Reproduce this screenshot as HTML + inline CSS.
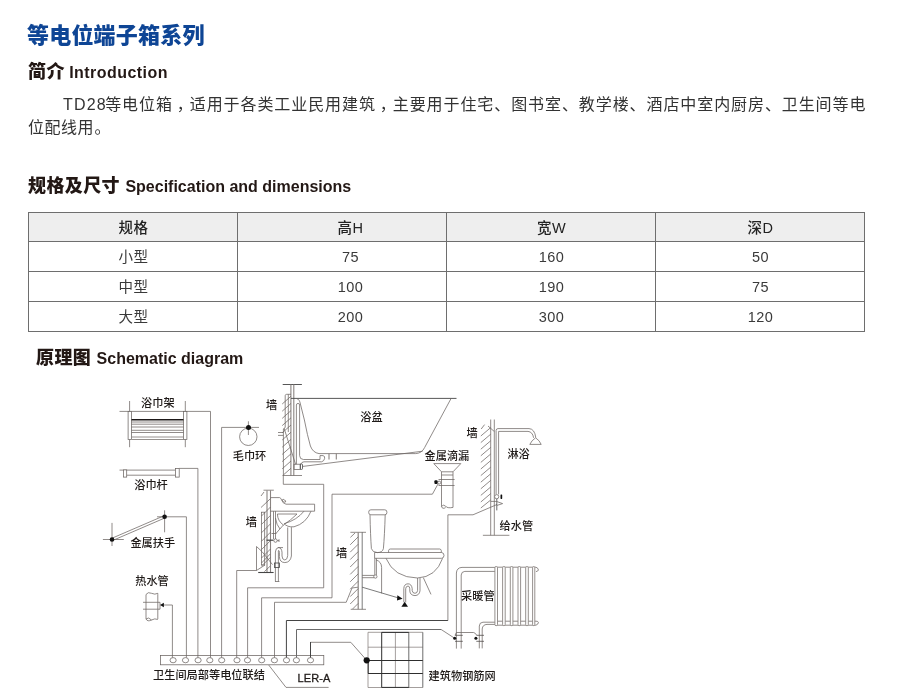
<!DOCTYPE html>
<html lang="zh-CN">
<head>
<meta charset="utf-8">
<title>等电位端子箱系列</title>
<style>
html,body{margin:0;padding:0;background:#fff;}
body{width:900px;height:700px;position:relative;overflow:hidden;font-family:"Liberation Sans","Noto Sans CJK SC",sans-serif;color:#333;}
.abs{position:absolute;white-space:nowrap;margin:0;}
h1.title{left:27px;top:20px;font-size:22px;line-height:32px;font-weight:900;color:#0e4595;letter-spacing:0.2px;}
h2.sec{font-size:18px;line-height:26px;font-weight:900;color:#231815;letter-spacing:0.4px;}
h2.sec span{font-size:16px;font-weight:bold;letter-spacing:0;}
p.intro{position:absolute;left:28px;width:838px;margin:0;font-size:16px;line-height:23px;letter-spacing:0.5px;color:#333;font-weight:400;white-space:nowrap;}
p.l1{top:92.5px;text-indent:35px;text-align:justify;text-align-last:justify;}
p.l2{top:115.5px;}
p.intro b{font-weight:normal;letter-spacing:1.2px;margin-right:-2.2px;}
p.intro i{font-style:normal;position:relative;left:4px;}
table.spec{position:absolute;left:28px;top:212px;width:837px;border-collapse:collapse;table-layout:fixed;font-size:14.5px;letter-spacing:0.5px;color:#3a3a3a;}
table.spec td,table.spec th{border:1px solid #6e6e6e;height:27px;padding:2px 0 0 1px;text-align:center;font-weight:normal;line-height:27px;}
table.spec th{height:26px;line-height:26px;}
table.spec th{background:#eee;color:#222;font-weight:500;}
table.spec .c2{padding-left:17px;}
#page{position:absolute;left:0;top:0;width:900px;height:700px;will-change:transform;}
svg#dia{position:absolute;left:0;top:0;}
svg#dia text{font-family:"Liberation Sans","Noto Sans CJK SC",sans-serif;font-size:11.2px;fill:#1f1a18;font-weight:500;}
.t{fill:none;stroke:#6b6461;stroke-width:0.75;}
.g{fill:none;stroke:#8a8481;stroke-width:0.9;}
.k{fill:none;stroke:#444;stroke-width:1;}
.f{fill:#111;stroke:none;}
.w{fill:#fff;stroke:#6b6461;stroke-width:0.75;}
</style>
</head>
<body>
<div id="page">
<h1 class="abs title">等电位端子箱系列</h1>
<h2 class="abs sec" style="left:28px;top:59px;">简介 <span style="letter-spacing:0.45px;margin-left:-1px">Introduction</span></h2>
<p class="intro l1"><b>TD28</b>等电位箱<i>，</i>适用于各类工业民用建筑<i>，</i>主要用于住宅、图书室、教学楼、酒店中室内厨房、卫生间等电</p>
<p class="intro l2">位配线用<i style="left:0.5px">。</i></p>
<h2 class="abs sec" style="left:28px;top:173px;">规格及尺寸 <span>Specification and dimensions</span></h2>
<table class="spec">
<tr><th>规格</th><th class="c2">高H</th><th>宽W</th><th>深D</th></tr>
<tr><td>小型</td><td class="c2">75</td><td>160</td><td>50</td></tr>
<tr><td>中型</td><td class="c2">100</td><td>190</td><td>75</td></tr>
<tr><td>大型</td><td class="c2">200</td><td>300</td><td>120</td></tr>
</table>
<h2 class="abs sec" style="left:36px;top:345px;">原理图 <span>Schematic diagram</span></h2>
<svg id="dia" width="900" height="700" viewBox="0 0 900 700">
<!-- terminal strip -->
<g id="strip">
<rect class="t" x="160.4" y="655.6" width="163.4" height="9.2"/>
<g class="t">
<ellipse cx="173.1" cy="660.2" rx="3.1" ry="2.6"/><ellipse cx="185.5" cy="660.2" rx="3.1" ry="2.6"/>
<ellipse cx="198.1" cy="660.2" rx="3.1" ry="2.6"/><ellipse cx="209.8" cy="660.2" rx="3.1" ry="2.6"/>
<ellipse cx="221.7" cy="660.2" rx="3.1" ry="2.6"/><ellipse cx="237" cy="660.2" rx="3.1" ry="2.6"/>
<ellipse cx="247.5" cy="660.2" rx="3.1" ry="2.6"/><ellipse cx="261.7" cy="660.2" rx="3.1" ry="2.6"/>
<ellipse cx="274.4" cy="660.2" rx="3.1" ry="2.6"/><ellipse cx="286.5" cy="660.2" rx="3.1" ry="2.6"/>
<ellipse cx="296.4" cy="660.2" rx="3.1" ry="2.6"/><ellipse cx="310.5" cy="660.2" rx="3.1" ry="2.6"/>
</g>
<path class="t" d="M268.7 665 L286 687.4 H328.6"/>
<text x="153" y="679">卫生间局部等电位联结</text>
<text x="297.6" y="682" style="font-size:11px;font-weight:normal;letter-spacing:0.1px;stroke:#1f1a18;stroke-width:0.3">LER-A</text>
</g>
<!-- wires -->
<g id="wires">
<path class="t" d="M163.9 605 H172.4 V657.6"/>
<path class="t" d="M157 516.8 H186.4 V657.6"/>
<path class="t" d="M179.2 468.4 H197.9 V657.6"/>
<path class="t" d="M119.5 411.4 H210.5 V657.6"/>
<path class="t" d="M259 427.4 H221.6 V657.6"/>
<path class="t" d="M256.5 570.5 H236.7 V657.6"/>
<path class="t" d="M283.3 475.5 V484.3 H323.7 V587.8 H247.6 V657.6"/>
<path class="t" d="M438 484 L432.4 494.2 H332 V597.8 H261.6 V657.6"/>
<path class="t" d="M358 587.2 L352 588 L346.2 602.3 H274.5 V657.6"/>
<path class="t" d="M497 504.5 L473 514.8 H447.9 V620.5"/>
<path class="k" d="M447.9 620.5 H286.4 V657.6"/>
<path class="t" d="M454.7 638.3 L441 629.4"/>
<path class="k" d="M441 629.5 H296.5 V657.6" style="stroke:#6a6a6a"/>
<path class="t" d="M366.6 660.2 L350.8 642.3 H310.5"/>
<path class="k" d="M310.5 642 V657.6"/>
</g>
<!-- towel rack -->
<g id="rack">
<path class="t" d="M129.6 401 V447.2 M185.3 401 V447.2"/>
<rect class="w" x="128.1" y="411.4" width="3.4" height="28.2" style="stroke:#6a6461"/>
<rect class="w" x="183.5" y="411.4" width="3.4" height="28.2" style="stroke:#6a6461"/>
<path d="M131.5 419.8 H183.5" style="stroke:#1c1817;stroke-width:1.6;fill:none"/>
<path class="t" d="M131.5 422 H183.5 M131.5 424.2 H183.5 M131.5 427 H183.5 M131.5 430.3 H183.5 M131.5 432.5 H183.5"/>
<path class="g" d="M131.5 437 H183.5 M131.5 439.5 H183.5"/>
<text x="141" y="406.8">浴巾架</text>
</g>
<!-- towel bar -->
<g id="bar">
<path class="t" d="M119.5 470.1 H175.4 M126.7 475.2 H175.4"/>
<rect class="w" x="123.4" y="469.9" width="3.3" height="7.2"/>
<rect class="w" x="175.4" y="468.4" width="3.8" height="8.7"/>
<text x="134.2" y="488.8">浴巾杆</text>
</g>
<!-- handrail -->
<g id="rail">
<path class="t" d="M102.9 539.5 H123.8 M112 522.9 V546 M164.6 510.3 V532.3"/>
<path class="t" d="M111.6 538.4 L164.2 515.7 M112.4 540.6 L165 517.9"/>
<circle class="f" cx="112" cy="539.5" r="2.3"/><circle class="f" cx="164.6" cy="516.8" r="2.3"/>
<text x="130.4" y="547.4">金属扶手</text>
</g>
<!-- hot water pipe -->
<g id="hot">
<path class="t" d="M146 594.5 V619 M157.8 594.5 V609.2 H160 V602.3 H157.8 M157.8 609.2 V619"/>
<path class="t" d="M146 594.5 Q148 591.5 151.5 593.3 Q155 595 157.8 593.3 V594.5"/>
<path class="t" d="M146 619 Q147.5 622 151.5 620 Q155 618 157.8 619.5 M146 619 Q148.5 616.5 151.5 620"/>
<path class="t" d="M143 602.3 H157.8 M143 609.2 H157.8"/>
<path class="f" d="M160 605 L163.9 602.7 V607.3 Z"/>
<text x="135.2" y="585.2">热水管</text>
</g>
<!-- towel ring -->
<g id="ring">
<circle class="t" cx="248.3" cy="436.8" r="8.7"/>
<path class="t" d="M248.4 421.3 V435"/>
<circle class="f" cx="248.5" cy="427.4" r="2.5"/>
<text x="232.7" y="460">毛巾环</text>
</g>
<!-- bathtub -->
<g id="tub">
<path class="k" d="M282.7 384.5 H301.9" style="stroke-width:0.9"/>
<path class="g" d="M290.9 384.5 V475.5 M293.8 384.5 V475.5" style="stroke-width:1.1"/>
<path class="t" d="M285.2 427.6 V395.6 Q285.3 394.4 286.6 394.3 H291 M288.3 394.3 V432 M285.2 427.4 L283.4 429 V475.5"/>
<path class="t" d="M282.2 404 L291 396.2 M282.2 411.2 L291 403.4 M282.2 418.4 L291 410.6 M282.2 425.6 L291 417.8 M282.2 432.8 L291 425 M282.2 440 L291 432.2 M282.2 447.2 L291 439.4 M282.2 454.4 L291 446.6 M282.2 461.6 L291 453.8 M282.2 468.8 L291 461 M283.3 475 L291 468.2"/>
<path class="t" d="M278 432.5 H283.4 M278 435.4 H283.4 M284 428 L295.6 464.4"/>
<path class="t" d="M282.5 475.5 H302"/>
<path class="k" d="M291 398.4 H456.5" style="stroke-width:0.9"/>
<path class="t" d="M451.1 398.4 L424.6 447.6 Q421.8 453.4 415.5 453.6 H319 Q312.8 452.6 310.4 446 Q307.5 436 304.4 420 L300.4 404 Q299.6 399.2 296.5 398.5"/>
<path class="t" d="M422.6 451.2 L303 466.4"/>
<path class="g" d="M329 453.6 V459.5 M336.3 453.6 V459.5" style="stroke-width:1.1"/>
<path class="t" d="M296.4 464.2 V405 Q296.5 403.4 298 403.4 Q299.6 403.4 299.6 405 V455.6 Q299.8 459.4 303.4 459.5 H320 V455.6 H323 Q325.2 456 324.6 458.6 Q324 461.2 321.6 461.8 H304 Q301.6 462 300.6 464.2"/>
<rect class="t" x="294" y="464.2" width="6.4" height="5.2"/>
<rect class="k" x="300.2" y="464" width="2.3" height="5.4" rx="0.8" style="stroke-width:0.8"/>
<text x="266" y="409">墙</text>
<text x="360.2" y="420.6">浴盆</text>
</g>
<!-- floor drain -->
<g id="drain">
<path class="t" d="M433.8 463.6 H460.8 L453 471.8 H441.5 Z"/>
<path class="t" d="M441.5 471.8 V506.6 M453 471.8 V507.4 M441.5 475 H453 M438.5 479.5 H454.6 M438.5 485.5 H454.6"/>
<path class="t" d="M441.5 506.6 Q443 504 445.5 506 Q447 508.6 453 507.4 M441.5 506.6 Q442.5 509.4 445.6 507.6"/>
<circle class="t" cx="439.2" cy="482.6" r="1.5"/>
<rect class="f" x="434.4" y="480.3" width="3.2" height="3.8" rx="1"/>
<text x="424.5" y="460">金属滴漏</text>
</g>
<!-- shower -->
<g id="shower">
<path class="t" d="M490.7 419.5 V535.3 M494.3 419.5 V535.3 M482.9 535.3 H509.4"/>
<path class="t" d="M481.2 429 L484.6 424.6 M480.8 436 L490.7 427.6 M480.8 442.6 L490.7 434.2 M480.8 449.2 L490.7 440.8 M480.8 455.8 L490.7 447.4 M480.8 462.4 L490.7 454 M480.8 469 L490.7 460.6 M480.8 475.6 L490.7 467.2 M480.8 482.2 L490.7 473.8 M480.8 488.8 L490.7 480.4 M480.8 495.4 L490.7 487 M480.8 502 L490.7 493.6 M480.8 508 L490.7 500"/>
<path class="t" d="M496.1 494.4 V430.4 Q496.2 428.6 498 428.6 H529 Q534.6 428.8 535.8 437.6 M498.6 494.4 V431.4 H528 Q532.6 431.8 533.6 437.8"/>
<path class="t" d="M529.8 444.4 H541.2 Q539.6 440.4 535.6 437.8 Q531.6 440.4 529.8 444.4 Z"/>
<path class="t" d="M488 426 L494.3 431.5"/>
<circle class="w" cx="496.7" cy="496.7" r="2.1"/>
<rect class="f" x="500.5" y="494.5" width="1.7" height="4.4" rx="0.6"/>
<path class="k" d="M496.8 498.8 V510.4" style="stroke-width:0.8"/>
<path class="t" d="M490.7 501.4 H497 M497 501.6 L502.6 503.6 L497 505.4"/>
<text x="466.5" y="437">墙</text>
<text x="507.4" y="458">淋浴</text>
<text x="499.6" y="529.8">给水管</text>
</g>
<!-- sink -->
<g id="sink">
<path class="t" d="M263.5 490.2 H273.8"/>
<path class="g" d="M267 490.2 V572.5 M270.5 490.2 V572.5" style="stroke-width:1.1"/>
<rect class="t" x="261.5" y="512.2" width="3.2" height="52.8"/>
<path class="t" d="M261 496 L264 492 M261 507.5 L270.5 498.6 M261.5 516 L270.5 507 M261.5 524.4 L270.5 515.4 M261.5 532.8 L270.5 523.8 M261.5 541.2 L270.5 532.2 M261.5 549.6 L270.5 540.6 M261.5 558 L270.5 549 M261.5 566 L270.5 557.4 M264.4 571.6 L270.5 565.8"/>
<path class="k" d="M258.2 572.5 H273.6" style="stroke-width:1.1"/>
<path class="t" d="M256.5 570.5 V546.5 L262 551.6 L272.5 564.6 M270.2 554 L261.5 563 M256.5 570.5 L265 565"/>
<path class="t" d="M270.5 497.6 H279.6 Q281 498 281.6 500 Q282.6 503.4 286 504.2 H314.6 V511.2 H270.5"/>
<ellipse class="t" cx="284" cy="500.8" rx="1.9" ry="1" transform="rotate(35 284 500.8)"/>
<path class="t" d="M311 511.2 Q306 523.6 294 526.8 Q287 527.4 284 523.4 M304 511.2 Q297 520 284.4 523.6"/>
<path class="t" d="M277.4 514 H297 Q291 520 283.4 525 Q277.6 521 277.4 514 Z"/>
<path class="t" d="M273.5 511.2 V539 M275.5 511.2 V539 M271.5 533.5 H276.5 M275.5 518 Q276.4 525 280 529 M283.4 525 L276 533.4"/>
<path class="k" d="M266.5 540.2 H273.6" style="stroke-width:1.2"/>
<circle class="w" cx="275.5" cy="540.6" r="1.7"/>
<path class="t" d="M277.2 540.6 H279 M279 539.2 V542"/>
<!-- trap -->
<path class="t" d="M287.7 527.4 V555.6 Q287.4 559.8 284.8 560 Q282.2 559.8 282 556 V552.2 Q281.6 547.8 278.6 547.6 Q275.6 547.8 275.4 552 V581.5 M291.4 527.2 V556 Q290.4 562.4 284.8 562.6 Q279.6 562.4 279.4 556.6 V552.8 Q279.4 550.4 278.6 550.4 Q278.2 550.6 278.4 552.8 V581.5 M275 581.5 H279.4 M277.8 547.6 H283"/>
<rect class="k" x="274.5" y="563" width="5" height="4.6" style="stroke-width:0.8"/>
<text x="245.8" y="526">墙</text>
</g>
<!-- toilet -->
<g id="toilet">
<path class="t" d="M350.4 532.3 H366 M350.7 609.3 H366"/>
<path class="g" d="M358.2 532.3 V609.3" style="stroke-width:1.2"/>
<path class="k" d="M362.2 532.3 V609.3" style="stroke-width:0.7"/>
<path class="t" d="M350.4 537.4 L355 533 M350.2 544.8 L358.2 536.8 M350.2 552.2 L358.2 544.2 M350.2 559.6 L358.2 551.6 M350.2 567 L358.2 559 M350.2 574.4 L358.2 566.4 M350.2 581.8 L358.2 573.8 M350.2 589.2 L358.2 581.2 M350.2 596.6 L358.2 588.6 M350.2 604 L358.2 596 M352.6 609 L358.2 603.4"/>
<rect class="t" x="368.7" y="509.8" width="18.2" height="5" rx="2.2"/>
<path class="t" d="M370 514.8 Q370.4 535 371.4 548.6 Q372.4 552.4 377.4 552.6 Q382.6 552.4 383.4 548.6 Q384.6 535 385.2 514.8"/>
<path class="t" d="M374.6 552.5 H441.6 Q444 552.8 444 555.4 Q444 558 441.6 558.3 H374.6 Z"/>
<path class="t" d="M388.6 552.5 V550.4 Q388.8 549.1 390.4 549 H439.6 Q441.2 549.2 441.3 550.6 V552.5"/>
<path class="t" d="M386 558.3 Q394 577.6 417.4 578 Q436 577.2 442.6 558.3"/>
<path class="t" d="M376.2 560 Q381.4 561.6 381.6 567.4 V593.3"/>
<path class="t" d="M374.8 558.3 V575 M376.4 558.3 V575 M362.2 575.4 H374 M362.2 577.7 H374"/>
<circle class="w" cx="375.4" cy="576.6" r="1.6"/>
<path class="t" d="M417.6 578 V590.4 Q417.4 593.2 415 593.3 Q412.4 593.2 412.2 590.6 V588.6 Q411.6 583.9 408 583.8 Q404 584 403.8 588.6 V602.3 M420 578 V590.8 Q419.4 595.4 415 595.6 Q410.2 595.4 409.8 591 V588.8 Q409.6 586 408 586 Q405.8 586.2 405.7 588.8 V602.3"/>
<path class="f" d="M404.7 601.8 L408 606.8 H401.4 Z"/>
<path class="t" d="M423.3 577.6 L431 594.4"/>
<path class="k" d="M362.2 587.2 L398 597.8" style="stroke-width:0.7"/>
<path class="f" d="M402.6 598.8 L397.4 595.2 L397 600.4 Z"/>
<text x="336" y="556.6">墙</text>
</g>
<!-- radiator -->
<g id="rad">
<path class="t" d="M456.4 648.6 V573 Q456.8 567.6 462 567.4 H495 M461.2 648.6 V575 Q461.4 571.6 464.8 571.4 H495"/>
<path class="t" d="M479.3 648.4 V626 Q479.5 622.3 483 622.2 H495 M482.2 648.4 V629 Q482.6 624.6 487 624.4 H495"/>
<path class="t" d="M495 567.2 H536 Q538.6 568.4 538.4 570 Q538 571.4 536 571.6 M495 625.2 H536 Q538.6 624 538.4 622.4 Q538 621 536 621.2 H495"/>
<g style="fill:#fff;stroke:#8a8481;stroke-width:0.9">
<rect x="494.9" y="566.6" width="2.6" height="59" rx="1"/><rect x="502.6" y="566.6" width="2.6" height="59" rx="1"/>
<rect x="510.3" y="566.6" width="2.6" height="59" rx="1"/><rect x="518" y="566.6" width="2.6" height="59" rx="1"/>
<rect x="525.7" y="566.6" width="2.6" height="59" rx="1"/><rect x="532.6" y="566.6" width="2.2" height="59" rx="1"/>
</g>
<path class="t" d="M456.4 632.5 H473.6 Q475.6 633 476.7 635.3 M456.4 632.5 L455 635.3"/>
<path class="t" d="M455 635.3 H462.8 M455 641.3 H462.8 M476.5 635.3 H484 M476.3 641.3 H484" style="stroke:#4a4644"/>
<circle class="f" cx="454.7" cy="638.3" r="1.5"/><circle class="f" cx="475.9" cy="638.3" r="1.5"/>
<text x="461" y="600.2">采暖管</text>
</g>
<!-- rebar mesh -->
<g id="mesh">
<path class="t" d="M368 632.3 H422.8 M368 647.2 H422.8 M368 687.5 H422.8 M368 632.3 V687.5 M395.4 632.3 V687.5" style="stroke:#857f7c"/>
<path class="k" d="M408.8 632.3 V687.5 M422.8 632.3 V687.5" style="stroke:#5c5c5c;stroke-width:0.9"/>
<path class="k" d="M381.7 632.3 V687.5 M368 660.5 H422.8 M368 673.5 H422.8 M381.7 632.4 H408.8 M381.7 687.4 H408.8 M368.2 660.5 V673.5" style="stroke:#2e2e2e;stroke-width:1"/>
<circle class="f" cx="366.7" cy="660.3" r="3.1"/>
<text x="428.6" y="679.8">建筑物钢筋网</text>
</g>



</svg>

</div>
</body>
</html>
